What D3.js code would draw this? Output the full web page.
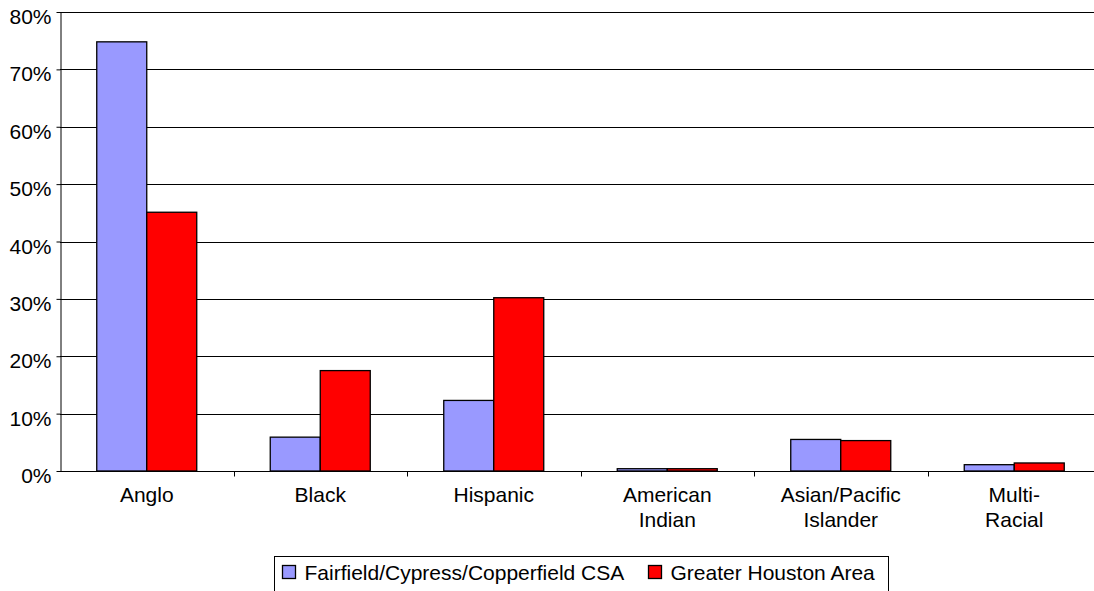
<!DOCTYPE html>
<html>
<head>
<meta charset="utf-8">
<script src="https://cdn.jsdelivr.net/npm/d3@7"></script>
<style>
  body { margin: 0; background: #fff; }
  svg { display: block; font-family: "Liberation Sans", Arial, sans-serif; }
</style>
</head>
<body>
<div id="chart"></div>
<script>
// data
var categories = ["Anglo", "Black", "Hispanic", "American Indian", "Asian/Pacific Islander", "Multi-Racial"];
var categoryLines = [["Anglo"], ["Black"], ["Hispanic"], ["American", "Indian"], ["Asian/Pacific", "Islander"], ["Multi-", "Racial"]];
var seriesNames = ["Fairfield/Cypress/Copperfield CSA", "Greater Houston Area"];
var csaValues = [74.8, 5.9, 12.3, 0.4, 5.5, 1.1];
var houstonValues = [45.1, 17.5, 30.2, 0.4, 5.3, 1.4];
var yTicks = [0, 10, 20, 30, 40, 50, 60, 70, 80];

var W = 1094, H = 591;
var margin = { top: 12, left: 60 },
  plotRight = 1101,
  plotBottom = 471;
var fontSize = "21px";

var color = d3.scaleOrdinal().domain(seriesNames).range(["#9999FF", "#FF0000"]);

var svg = d3.select("#chart").append("svg")
  .attr("width", W)
  .attr("height", H);

// scales
var x0 = d3.scaleBand().domain(categories).range([margin.left, plotRight]).padding(0);
var x1 = d3.scaleBand().domain(seriesNames).range([0, x0.bandwidth()])
  .paddingInner(0).paddingOuter(0.735);
var y = d3.scaleLinear().domain([0, 80]).range([plotBottom, margin.top]);

// gridlines
svg.append("g")
  .selectAll("line")
  .data(yTicks.filter(function (d) { return d > 0; }))
  .enter()
  .append("line")
  .attr("x1", margin.left)
  .attr("x2", plotRight)
  .attr("y1", function (d) { return Math.round(y(d)) + 0.5; })
  .attr("y2", function (d) { return Math.round(y(d)) + 0.5; })
  .attr("stroke", "#000")
  .attr("stroke-width", 1);

// bars
var rows = categories.map(function (c, i) {
  return { cat: c, values: [csaValues[i], houstonValues[i]] };
});

var group = svg.append("g")
  .selectAll("g")
  .data(rows)
  .enter()
  .append("g")
  .attr("transform", function (d) { return "translate(" + x0(d.cat) + ",0)"; });

group.selectAll("rect")
  .data(function (d) {
    return seriesNames.map(function (s, j) { return { key: s, value: d.values[j] }; });
  })
  .enter()
  .append("rect")
  .attr("x", function (d) { return x1(d.key); })
  .attr("width", x1.bandwidth())
  .attr("y", function (d) { return y(d.value); })
  .attr("height", function (d) { return plotBottom - y(d.value); })
  .attr("fill", function (d) { return color(d.key); })
  .attr("stroke", "#000")
  .attr("stroke-width", 1.3);

// y axis
var yAxis = svg.append("g")
  .attr("transform", "translate(" + (margin.left + 0.5) + ",0)")
  .call(d3.axisLeft(y).tickValues(yTicks).tickFormat(function (d) { return d + "%"; })
    .tickSizeInner(4).tickSizeOuter(0).tickPadding(5));
yAxis.select(".domain").attr("stroke", "#000");
yAxis.selectAll(".tick line").attr("stroke", "#000");
yAxis.selectAll("text")
  .attr("fill", "#000")
  .attr("dy", "0.55em")
  .style("font-size", fontSize)
  .style("font-family", "Liberation Sans, Arial, sans-serif");

// x axis
var xAxis = svg.append("g")
  .attr("transform", "translate(0," + (plotBottom + 0.5) + ")");
xAxis.append("line")
  .attr("x1", margin.left).attr("x2", plotRight)
  .attr("stroke", "#000");
xAxis.selectAll(".xtick")
  .data(categories.slice(1))
  .enter()
  .append("line")
  .attr("class", "xtick")
  .attr("x1", function (d) { return Math.round(x0(d)) + 0.5; })
  .attr("x2", function (d) { return Math.round(x0(d)) + 0.5; })
  .attr("y1", 0).attr("y2", 5)
  .attr("stroke", "#000");

xAxis.selectAll(".xlabel")
  .data(categories)
  .enter()
  .append("text")
  .attr("class", "xlabel")
  .attr("text-anchor", "middle")
  .attr("x", function (d) { return x0(d) + x0.bandwidth() / 2; })
  .attr("y", 30)
  .style("font-size", fontSize)
  .each(function (d, i) {
    var t = d3.select(this);
    categoryLines[i].forEach(function (line, k) {
      t.append("tspan")
        .attr("x", x0(d) + x0.bandwidth() / 2)
        .attr("dy", k === 0 ? 0 : 25)
        .text(line);
    });
  });

// legend
var legend = svg.append("g").attr("transform", "translate(274.5,556.5)");
legend.append("rect")
  .attr("width", 614)
  .attr("height", 40)
  .attr("fill", "#fff")
  .attr("stroke", "#000");

var legendX = [8, 374];
var item = legend.selectAll(".item")
  .data(seriesNames)
  .enter()
  .append("g")
  .attr("class", "item")
  .attr("transform", function (d, i) { return "translate(" + legendX[i] + ",0)"; });
item.append("rect")
  .attr("y", 9)
  .attr("width", 13)
  .attr("height", 13)
  .attr("fill", function (d) { return color(d); })
  .attr("stroke", "#000")
  .attr("stroke-width", 1.3);
item.append("text")
  .attr("x", 22)
  .attr("y", 23)
  .style("font-size", fontSize)
  .text(function (d) { return d; });
</script>
</body>
</html>
